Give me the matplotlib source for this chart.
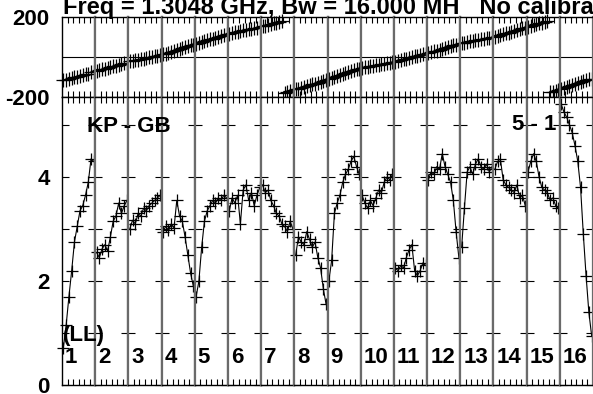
import matplotlib
matplotlib.use('Agg')
import matplotlib.pyplot as plt
import numpy as np

plt.rcParams['font.family'] = ['Liberation Sans', 'DejaVu Sans']
plt.rcParams['font.weight'] = 'bold'
plt.rcParams['font.size'] = 16
plt.rcParams['axes.unicode_minus'] = False

# texts
title = 'Freq = 1.3048 GHz, Bw = 16.000 MH   No calibra'
baseline_label = 'KP - GB'
corner_label = '5 - 1'
stokes_label = '(LL)'
if_numbers = [str(i) for i in range(1, 17)]
n_chan = 12

# phase (deg), one row per IF
phase = [
    [-116, -114, -109, -106, -100, -99, -93, -91, -85, -83, -77, -75],
    [-70, -67, -62, -60, -54, -51, -47, -45, -39, -36, -31, -28],
    [-22, -21, -17, -13, -11, -8, -4, -2, 2, 4, 7, 9],
    [14, 17, 22, 27, 31, 36, 40, 45, 50, 54, 58, 62],
    [67, 72, 75, 80, 84, 88, 92, 97, 101, 105, 108, 113],
    [117, 120, 123, 126, 129, 133, 135, 139, 141, 145, 147, 150],
    [154, 157, 161, 165, 168, 172, 176, 179, -178, -174, -171, -167],
    [-162, -158, -154, -150, -146, -141, -137, -133, -129, -125, -121, -117],
    [-112, -107, -102, -97, -92, -87, -82, -77, -72, -67, -62, -59],
    [-55, -52, -49, -46, -44, -41, -38, -36, -33, -31, -28, -26],
    [-23, -19, -15, -12, -8, -4, -1, 3, 7, 10, 14, 16],
    [20, 24, 28, 32, 36, 41, 45, 49, 53, 58, 62, 66],
    [70, 72, 75, 78, 80, 83, 86, 88, 91, 94, 96, 99],
    [102, 106, 110, 114, 118, 122, 126, 130, 134, 139, 143, 147],
    [152, 156, 160, 164, 168, 172, 176, 179, -177, -173, -169, -166],
    [-162, -157, -152, -147, -142, -137, -132, -127, -122, -117, -112, -108],
]

# amplitude, one row per IF
amplitude = [
    [0.72, 1.15, 1.70, 2.20, 2.75, 3.05, 3.35, 3.45, 3.65, 3.90, 4.35, 4.30],
    [2.55, 2.45, 2.62, 2.70, 2.58, 2.85, 3.15, 3.25, 3.50, 3.30, 3.45, 3.55],
    [3.00, 3.17, 3.10, 3.30, 3.25, 3.40, 3.35, 3.45, 3.50, 3.55, 3.60, 3.65],
    [2.95, 3.05, 2.98, 3.10, 3.02, 3.55, 3.25, 3.15, 2.85, 2.50, 2.15, 1.90],
    [1.70, 2.00, 2.65, 3.15, 3.35, 3.45, 3.55, 3.50, 3.60, 3.55, 3.65, 3.60],
    [3.35, 3.60, 3.50, 3.65, 3.10, 3.75, 3.85, 3.55, 3.70, 3.45, 3.65, 3.80],
    [3.85, 3.70, 3.75, 3.55, 3.45, 3.30, 3.25, 3.10, 3.05, 2.95, 3.15, 3.00],
    [2.50, 2.85, 2.75, 2.70, 2.95, 2.80, 2.65, 2.75, 2.45, 2.25, 1.85, 1.55],
    [2.00, 2.40, 3.30, 3.50, 3.65, 3.90, 4.05, 4.15, 4.30, 4.40, 4.20, 4.05],
    [3.65, 3.50, 3.40, 3.55, 3.45, 3.60, 3.75, 3.70, 3.90, 4.00, 3.95, 4.05],
    [2.25, 2.20, 2.30, 2.25, 2.45, 2.60, 2.70, 2.20, 2.10, 2.20, 2.35, 2.30],
    [3.95, 4.10, 4.05, 4.20, 4.15, 4.45, 4.20, 4.05, 3.90, 3.55, 2.95, 2.45],
    [2.65, 3.40, 4.10, 4.20, 4.05, 4.25, 4.35, 4.20, 4.15, 4.25, 4.10, 4.20],
    [4.15, 4.30, 4.35, 3.95, 3.85, 3.80, 3.75, 3.70, 3.85, 3.60, 3.65, 3.45],
    [4.10, 4.30, 4.45, 4.30, 4.00, 3.80, 3.75, 3.70, 3.55, 3.60, 3.45, 3.40],
    [5.40, 5.25, 5.15, 5.00, 4.85, 4.60, 4.30, 3.80, 2.90, 2.10, 1.40, 0.95],
]

W, H = 593, 394
fig = plt.figure(figsize=(W / 100, H / 100), dpi=100)
gs = fig.add_gridspec(2, 16, left=62 / W, right=1.0, top=1 - 17 / H, bottom=1 - 385 / H,
                      hspace=0, wspace=0, height_ratios=[80, 288])

chan = np.arange(n_chan) + 0.5
for k in range(16):
    axp = fig.add_subplot(gs[0, k])
    axa = fig.add_subplot(gs[1, k])
    axp.axhline(0, color='black', lw=0.8)
    axp.plot(chan, phase[k], ls='none', marker='+', ms=10, mew=0.9, color='black', clip_on=False)
    axa.plot(chan, amplitude[k], color='black', lw=0.8, marker='+', ms=9, mew=0.9, clip_on=False)

    for ax in (axp, axa):
        ax.set_xlim(0, n_chan)
        ax.set_xticks([2, 4, 6, 8, 10])
        ax.tick_params(axis='x', direction='in', top=True, bottom=True, length=4, width=0.8,
                       labelbottom=False)
        for s in ('left', 'right'):
            ax.spines[s].set_color('#6a6a6a')
            ax.spines[s].set_linewidth(1.6)
        for s in ('top', 'bottom'):
            ax.spines[s].set_linewidth(1.0)
        if k == 0:
            ax.spines['left'].set_color('black')
            ax.spines['left'].set_linewidth(1.0)

    axp.set_ylim(-200, 200)
    axp.set_yticks([-200, 200])
    axp.tick_params(axis='y', length=0, pad=9, labelleft=(k == 0))

    axa.set_ylim(0, 5.54)
    axa.set_yticks(range(6))
    axa.set_yticklabels(['0', '', '2', '', '4', ''])
    axa.tick_params(axis='y', direction='in', left=True, right=True, length=5, width=0.8,
                    pad=9, labelleft=(k == 0))

    fig.text((62 + k * 33.2 + 3) / W, 1 - 363 / H, if_numbers[k], va='baseline', ha='left')

fig.text(63 / W, 1 - 14 / H, title, va='baseline', ha='left', fontsize=17)
fig.text(87 / W, 1 - 132 / H, baseline_label, va='baseline', ha='left')
fig.text(512 / W, 1 - 130 / H, corner_label, va='baseline', ha='left')
fig.text(63 / W, 1 - 341 / H, stokes_label, va='baseline', ha='left')

fig.savefig('out.png', dpi=100)
